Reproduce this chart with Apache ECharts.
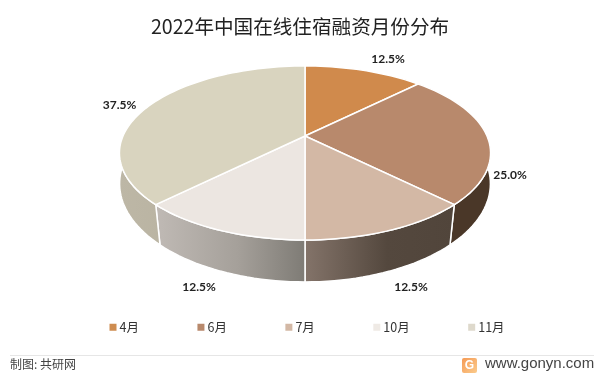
<!DOCTYPE html>
<html>
<head>
<meta charset="utf-8">
<script src="https://cdn.jsdelivr.net/npm/echarts@6/dist/echarts.min.js"></script>
<style>
  html, body { margin: 0; padding: 0; background: #fff; }
  #main { width: 600px; height: 379px; }
</style>
</head>
<body>
<div id="main"></div>
<script>
var months = ['4月', '6月', '7月', '10月', '11月'];
var shares = [12.5, 25.0, 12.5, 12.5, 37.5];
var topColors = ['#D08A4C', '#B8896C', '#D3B8A5', '#ECE6E1', '#D9D4BF'];
var legendColors = ['#CE8C50', '#B8896C', '#D3B8A5', '#EFEAE5', '#DED9CC'];
// 옆면 그라데이션 왼쪽 / 중간 / 오른쪽 색
var wallLeft = ['#4A3728', '#4A3728', '#84746A', '#C0BAB5', '#BDB7A6'];
var wallMid = ['#4A3728', '#4A3728', '#54483E', '#A5A09A', '#B6B09E'];
var wallRight = ['#4A3728', '#4A3728', '#51453B', '#7E7B75', '#B0AA98'];
// 라벨 위치 보정 (조각 가운데 호 기준)
var labelShift = [[24, -11], [23, 39], [21, 57], [-21, 57], [-29, -1]];

var chart = echarts.init(document.getElementById('main'));

// 원근이 들어간 원판 투영
var top3d = { cx: 305, cy: 136, rx: 182, ry: 83.7, k: 0.195 };
var bottom3d = { cx: 305, cy: 169, rx: 183.3, ry: 96, k: 0.15 };

function project(disc, deg) {
  var a = deg * Math.PI / 180;
  var u = Math.sin(a);
  var v = -Math.cos(a);
  var w = 1 - disc.k * v;
  return [disc.cx + disc.rx * u / w, disc.cy + disc.ry * v / w];
}

function arc(disc, from, to) {
  var pts = [];
  var steps = Math.ceil(Math.abs(to - from) / 2);
  for (var i = 0; i <= steps; i++) {
    pts.push(project(disc, from + (to - from) * i / steps));
  }
  return pts;
}

var total = shares.reduce(function (s, v) { return s + v; }, 0);
var series = months.map(function (name, idx) {
  var before = shares.slice(0, idx).reduce(function (s, v) { return s + v; }, 0);
  return {
    name: name,
    type: 'custom',
    coordinateSystem: 'none',
    silent: true,
    itemStyle: { color: legendColors[idx] },
    data: [shares[idx]],
    renderItem: function (params, api) {
      var start = before / total * 360;
      var end = start + api.value(0) / total * 360;
      var mid = project(top3d, (start + end) / 2);
      return {
        type: 'group',
        children: [
          {
            type: 'polygon',
            z2: 1,
            shape: { points: arc(top3d, start, end).concat(arc(bottom3d, end, start)) },
            style: {
              fill: new echarts.graphic.LinearGradient(0, 0, 1, 0, [
                { offset: 0, color: wallLeft[idx] },
                { offset: 0.55, color: wallMid[idx] },
                { offset: 1, color: wallRight[idx] }
              ]),
              stroke: '#fff',
              lineWidth: 1.5
            }
          },
          {
            type: 'polygon',
            z2: 10,
            shape: { points: [[top3d.cx, top3d.cy]].concat(arc(top3d, start, end)) },
            style: { fill: topColors[idx], stroke: '#fff', lineWidth: 1.5 }
          },
          {
            type: 'text',
            z2: 20,
            x: mid[0] + labelShift[idx][0],
            y: mid[1] + labelShift[idx][1],
            style: {
              text: api.value(0).toFixed(1) + '%',
              fill: '#222',
              font: 'bold 12px Lato, "Noto Sans"',
              align: 'center',
              verticalAlign: 'middle'
            }
          }
        ]
      };
    }
  };
});

var option = {
  animation: false,
  title: {
    text: '2022年中国在线住宿融资月份分布',
    left: 'center',
    top: 12,
    textStyle: { fontFamily: '"Noto Sans CJK SC"', fontSize: 19.6, fontWeight: 'normal', color: '#222' }
  },
  legend: {
    data: months,
    left: 104.5,
    top: 316,
    icon: 'rect',
    itemWidth: 7,
    itemHeight: 7,
    itemGap: 58.5,
    itemStyle: { borderWidth: 0 },
    selectedMode: false,
    textStyle: { fontFamily: '"Noto Sans CJK SC"', fontSize: 12.5, color: '#333', padding: [0, 0, 0, -2] }
  },
  graphic: [
    { type: 'line', shape: { x1: 10, y1: 355.5, x2: 594, y2: 355.5 }, style: { stroke: '#e6e6e6', lineWidth: 1 } },
    { type: 'text', x: 10, y: 358, style: { text: '制图: 共研网', fill: '#444', font: '12px "Noto Sans CJK SC"' } },
    {
      type: 'rect', shape: { x: 462, y: 358, width: 15, height: 15, r: 2 },
      style: { fill: new echarts.graphic.LinearGradient(0, 0, 1, 1, [
        { offset: 0, color: '#F59A55' }, { offset: 1, color: '#FBCB8C' }
      ]) }
    },
    { type: 'text', x: 469.5, y: 365.5, style: { text: 'G', fill: '#fff', font: 'bold 12px "Liberation Sans"', align: 'center', verticalAlign: 'middle' } },
    { type: 'text', x: 485, y: 356.5, style: { text: 'www.gonyn.com', fill: '#444', font: '15px "Liberation Sans"' } }
  ],
  series: series
};

option && chart.setOption(option);
</script>
</body>
</html>
